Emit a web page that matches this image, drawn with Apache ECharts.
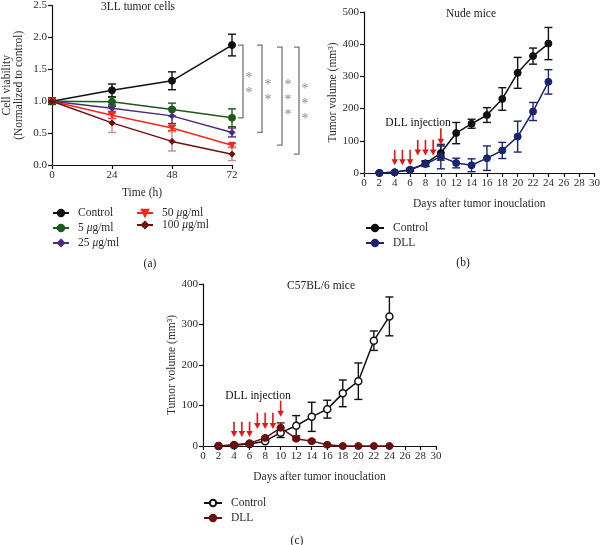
<!DOCTYPE html>
<html>
<head>
<meta charset="utf-8">
<script src="https://cdn.jsdelivr.net/npm/echarts@6/dist/echarts.min.js"></script>
<style>
  html, body { margin: 0; padding: 0; background: #fff; }
  #main { width: 603px; height: 545px; }
</style>
</head>
<body>
<div id="main"></div>
<script>
// panel (a) - 3LL tumor cells
const hours = [0, 24, 48, 72]
const ctrlA = [1.0, 1.17, 1.32, 1.88]
const ctrlAErr = [0.05, 0.1, 0.14, 0.17]
const g5 = [1.0, 0.99, 0.87, 0.74]
const g5Err = [0.05, 0.07, 0.1, 0.14]
const g25 = [1.0, 0.89, 0.77, 0.51]
const g25Err = [0.03, 0.05, 0.12, 0.07]
const g50 = [1.0, 0.78, 0.58, 0.31]
const g50Err = [0.03, 0.05, 0.04, 0.03]
const g100 = [1.0, 0.66, 0.37, 0.17]
const g100Err = [0.03, 0.15, 0.15, 0.1]
const starsA = ['**', '**', '***', '***']

// panel (b) - nude mice
const days = [2, 4, 6, 8, 10, 12, 14, 16, 18, 20, 22, 24]
const ctrlB = [0, 2, 10, 30, 62, 124, 153, 180, 230, 311, 363, 402]
const ctrlBErr = [2, 2, 4, 8, 22, 33, 14, 23, 35, 48, 25, 50]
const dllB = [0, 2, 10, 28, 51, 31, 24, 46, 70, 113, 191, 283]
const dllBErr = [2, 2, 4, 8, 38, 15, 20, 38, 25, 48, 28, 38]

// panel (c) - C57BL/6 mice
const ctrlC = [0, 2, 5, 12, 33, 50, 72, 91, 130, 160, 260, 320]
const ctrlCErr = [1, 1, 2, 3, 12, 25, 36, 22, 33, 45, 24, 48]
const dllC = [0, 3, 7, 20, 45, 18, 12, 3, 0, 0, 0, 0]
const dllCErr = [1, 1, 2, 3, 12, 3, 3, 2, 1, 1, 1, 1]

// injection arrows: day, start value, tip value
const injDays = [4, 5, 6, 7, 8, 9, 10]
const injTopB = [72, 72, 72, 103, 103, 103, 139]
const injTipB = [24, 24, 24, 54, 54, 54, 88]
const injTopC = [60, 60, 60, 82, 82, 82, 112]
const injTipC = [22, 22, 22, 42, 42, 42, 72]

const FONT = 'Liberation Serif'
const TXT = '#2b2b2b'

const chart = echarts.init(document.getElementById('main'))

function zip(xs, ys, es) {
  return xs.map((x, i) => es ? [x, ys[i], es[i]] : [x, ys[i]])
}

function errSeries(idx, xs, ys, es, color, cap) {
  return {
    type: 'custom',
    xAxisIndex: idx,
    yAxisIndex: idx,
    data: zip(xs, ys, es),
    z: 1,
    silent: true,
    renderItem(params, api) {
      const x = api.value(0), y = api.value(1), e = api.value(2)
      const hi = api.coord([x, y + e])
      const lo = api.coord([x, Math.max(y - e, 0)])
      const st = { stroke: color, lineWidth: 1.4 }
      return {
        type: 'group',
        children: [
          { type: 'line', shape: { x1: hi[0], y1: hi[1], x2: lo[0], y2: lo[1] }, style: st },
          { type: 'line', shape: { x1: hi[0] - cap, y1: hi[1], x2: hi[0] + cap, y2: hi[1] }, style: st },
          { type: 'line', shape: { x1: lo[0] - cap, y1: lo[1], x2: lo[0] + cap, y2: lo[1] }, style: st }
        ]
      }
    }
  }
}

function lineSeries(idx, name, xs, ys, color, symbol, size, extra) {
  return Object.assign({
    type: 'line',
    name: name,
    xAxisIndex: idx,
    yAxisIndex: idx,
    data: zip(xs, ys),
    symbol: symbol,
    symbolSize: size,
    z: 3,
    lineStyle: { color: color, width: 1.5 },
    itemStyle: { color: color, borderColor: color, borderWidth: 1 },
    animation: false
  }, extra || {})
}

function arrowSeries(idx, tops, tips, label) {
  return {
    type: 'custom',
    xAxisIndex: idx,
    yAxisIndex: idx,
    data: injDays.map((d, i) => [d, tops[i], tips[i]]),
    z: 5,
    silent: true,
    renderItem(params, api) {
      const top = api.coord([api.value(0), api.value(1)])
      const tip = api.coord([api.value(0), api.value(2)])
      const red = '#e3161b'
      const children = [
        { type: 'line', shape: { x1: top[0], y1: top[1], x2: tip[0], y2: tip[1] - 5 }, style: { stroke: red, lineWidth: 1.6 } },
        { type: 'polygon', shape: { points: [[tip[0] - 3.2, tip[1] - 6], [tip[0] + 3.2, tip[1] - 6], [tip[0], tip[1]]] }, style: { fill: red } }
      ]
      if (params.dataIndex === injDays.length - 1) {
        children.push({
          type: 'text',
          style: {
            text: label, x: top[0] + 10, y: top[1] + 1,
            textAlign: 'right', textVerticalAlign: 'bottom',
            font: '11.5px "' + FONT + '"', fill: '#111'
          }
        })
      }
      return { type: 'group', children: children }
    }
  }
}

// significance brackets to the right of 72 h
const groupsAt72 = [g5[3], g25[3], g50[3], g100[3]]
const bracketSeries = {
  type: 'custom',
  xAxisIndex: 0,
  yAxisIndex: 0,
  data: groupsAt72.map((v, i) => [72, v, i]),
  z: 5,
  silent: true,
  renderItem(params, api) {
    const i = api.value(2)
    const offs = [11, 30, 50, 67]
    const base = api.coord([72, ctrlA[3]])
    const low = api.coord([72, api.value(1)])
    const x = base[0] + offs[i]
    const y1 = base[1] + (i > 1 ? 2 : 0)
    const y2 = low[1]
    const st = { stroke: '#777', lineWidth: 1.3 }
    const kids = [
      { type: 'polyline', shape: { points: [[x - 5, y1], [x, y1], [x, y2], [x - 5, y2]] }, style: Object.assign({ fill: null }, st) }
    ]
    const s = starsA[i]
    const mid = (y1 + y2) / 2
    for (let k = 0; k < s.length; k++) {
      kids.push({
        type: 'text',
        style: {
          text: '*', x: x + 6, y: mid + (k - (s.length - 1) / 2) * 15 + 4,
          textAlign: 'center', textVerticalAlign: 'middle',
          font: '14px "' + FONT + '"', fill: '#888'
        }
      })
    }
    return { type: 'group', children: kids }
  }
}

const axisCommon = {
  axisLine: { show: true, lineStyle: { color: '#111', width: 1.2 } },
  axisTick: { show: true, length: 4, lineStyle: { color: '#111', width: 1.2 } },
  axisLabel: { color: TXT, fontFamily: FONT, fontSize: 11, margin: 5 },
  splitLine: { show: false },
  nameTextStyle: { color: TXT, fontFamily: FONT, fontSize: 11.5 },
  nameLocation: 'middle'
}

function xAx(idx, min, max, interval, name, gap) {
  return Object.assign({}, axisCommon, { gridIndex: idx, type: 'value', min, max, interval, name, nameGap: gap })
}
function yAx(idx, min, max, interval, name, gap, fmt) {
  const ax = Object.assign({}, axisCommon, { gridIndex: idx, type: 'value', min, max, interval, name, nameGap: gap })
  if (fmt) ax.axisLabel = Object.assign({}, axisCommon.axisLabel, { formatter: fmt })
  return ax
}

function legendStyle(extra) {
  return Object.assign({
    orient: 'vertical',
    padding: 0,
    itemWidth: 16,
    itemHeight: 8,
    itemGap: 3,
    textStyle: {
      color: TXT, fontFamily: FONT, fontSize: 11.5, padding: [0, 0, 0, 4],
      rich: { i: { fontStyle: 'italic', fontFamily: FONT, fontSize: 11.5, color: TXT } }
    },
    formatter: n => n.replace('μ', '{i|μ}')
  }, extra)
}

const titleText = { color: '#222', fontFamily: FONT, fontSize: 11.5, fontWeight: 'normal' }

chart.setOption({
  backgroundColor: '#fff',
  animation: false,
  title: [
    { text: '3LL tumor cells', left: 138, top: 1, textAlign: 'center', padding: 0, textStyle: titleText },
    { text: 'Nude mice', left: 471, top: 8, textAlign: 'center', padding: 0, textStyle: titleText },
    { text: 'C57BL/6 mice', left: 321, top: 280, textAlign: 'center', padding: 0, textStyle: titleText },
    { text: '(a)', left: 150, top: 258, textAlign: 'center', padding: 0, textStyle: titleText },
    { text: '(b)', left: 463, top: 257, textAlign: 'center', padding: 0, textStyle: titleText },
    { text: '(c)', left: 297, top: 535, textAlign: 'center', padding: 0, textStyle: titleText }
  ],
  grid: [
    { left: 52, top: 4, width: 180, height: 161 },
    { left: 364, top: 12, width: 234, height: 161 },
    { left: 203, top: 284, width: 233, height: 162 }
  ],
  xAxis: [
    xAx(0, 0, 72, 24, 'Time (h)', 22),
    xAx(1, 0, 30, 2, 'Days after tumor inouclation', 25),
    xAx(2, 0, 30, 2, 'Days after tumor inouclation', 25)
  ],
  yAxis: [
    yAx(0, 0, 2.5, 0.5, 'Cell viability\n(Normalized to control)', 27, v => v.toFixed(1)),
    yAx(1, 0, 500, 100, 'Tumor volume (mm³)', 25),
    yAx(2, 0, 400, 100, 'Tumor volume (mm³)', 23)
  ],
  legend: [
    legendStyle({ left: 52, top: 207, data: ['Control', '5 μg/ml', '25 μg/ml'] }),
    legendStyle({ left: 136, top: 207, itemGap: 0, data: ['50 μg/ml', '100 μg/ml'] }),
    legendStyle({ left: 365, top: 222, itemWidth: 18, data: ['Control ', 'DLL'] }),
    legendStyle({ left: 203, top: 497, itemWidth: 18, data: ['Control  ', 'DLL '] })
  ],
  series: [
    // (a)
    errSeries(0, hours, ctrlA, ctrlAErr, '#111', 4),
    errSeries(0, hours, g5, g5Err, '#1e5a1e', 4),
    errSeries(0, hours, g25, g25Err, '#4b2c7c', 4),
    errSeries(0, hours, g50, g50Err, '#f03a25', 4),
    errSeries(0, hours, g100, g100Err, '#c98a8a', 4),
    lineSeries(0, 'Control', hours, ctrlA, '#111', 'circle', 7),
    lineSeries(0, '5 μg/ml', hours, g5, '#1e5a1e', 'circle', 7),
    lineSeries(0, '25 μg/ml', hours, g25, '#4b2c7c', 'diamond', 6),
    lineSeries(0, '50 μg/ml', hours, g50, '#f5271b', 'triangle', 6, { symbolRotate: 180 }),
    lineSeries(0, '100 μg/ml', hours, g100, '#6e1010', 'diamond', 6),
    bracketSeries,
    // (b)
    errSeries(1, days, ctrlB, ctrlBErr, '#111', 4),
    errSeries(1, days, dllB, dllBErr, '#1b2470', 4),
    lineSeries(1, 'Control ', days, ctrlB, '#111', 'circle', 7),
    lineSeries(1, 'DLL', days, dllB, '#1b2470', 'circle', 7),
    arrowSeries(1, injTopB, injTipB, 'DLL injection'),
    // (c)
    errSeries(2, days, ctrlC, ctrlCErr, '#111', 4),
    errSeries(2, days, dllC, dllCErr, '#6b0f12', 4),
    lineSeries(2, 'Control  ', days, ctrlC, '#111', 'circle', 7,
      { itemStyle: { color: '#fff', borderColor: '#111', borderWidth: 1.5 } }),
    lineSeries(2, 'DLL ', days, dllC, '#6b0f12', 'circle', 7),
    arrowSeries(2, injTopC, injTipC, 'DLL injection')
  ]
})
</script>
</body>
</html>
